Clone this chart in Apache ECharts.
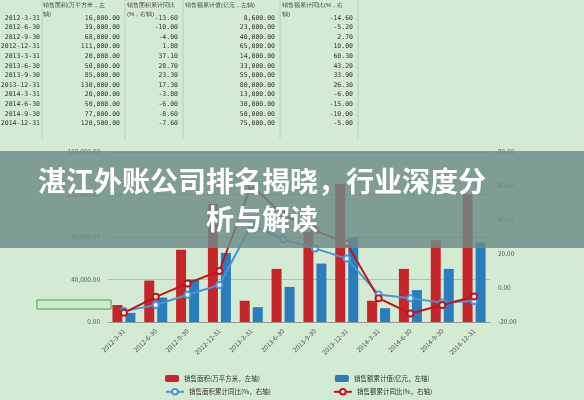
<!DOCTYPE html>
<html>
<head>
<meta charset="utf-8">
<script src="https://cdn.jsdelivr.net/npm/echarts@6/dist/echarts.min.js"></script>
<style>
  * { margin: 0; padding: 0; }
  body { background: #d3ead3; }
  #main { width: 584px; height: 400px; }
</style>
</head>
<body>
<div id="main"></div>
<script>
var dates = ['2012-3-31', '2012-6-30', '2012-9-30', '2012-12-31', '2013-3-31', '2013-6-30',
  '2013-9-30', '2013-12-31', '2014-3-31', '2014-6-30', '2014-9-30', '2014-12-31'];
var area = [16000, 39000, 68000, 111000, 20000, 50000, 85000, 130000, 20000, 50000, 77000, 120500];
var areaYoy = [-13.6, -10, -4, 1.8, 37.1, 28.7, 23.3, 17.3, -3.8, -6, -8.6, -7.6];
var amount = [8600, 23000, 40000, 65000, 14000, 33000, 55000, 80000, 13000, 30000, 50000, 75000];
var amountYoy = [-14.6, -5.2, 2.7, 10, 60.3, 43.2, 33.9, 26.3, -6, -15, -10, -5];
var names = ['销售面积(万平方米，左轴)', '销售额累计值(亿元，左轴)', '销售面积累计同比(%，右轴)', '销售额累计同比(%，右轴)'];
var headers = [['销售面积(万平方米，左', '轴)'], ['销售面积累计同比', '(%，右轴)'], ['销售额累计值(亿元，左轴)', ''], ['销售额累计同比(%，右', '轴)']];

function fmt(v, d) {
  return v.toLocaleString('en-US', { minimumFractionDigits: d, maximumFractionDigits: d });
}

var chart = echarts.init(document.getElementById('main'));
var mono = 'DejaVu Sans Mono';
var graphic = [];
// spreadsheet cell lines
[42, 125, 183, 280, 358].forEach(function (x) {
  graphic.push({ type: 'line', shape: { x1: x, y1: 0, x2: x, y2: 140 }, style: { stroke: '#b8d4b8', lineWidth: 1 }, silent: true });
});
var colsRight = [120, 178, 275, 353];
var colsLeft = [43, 127, 185, 282];
headers.forEach(function (h, i) {
  graphic.push({ type: 'text', left: colsLeft[i], top: 1, style: { text: h[0] + '\n' + h[1], fontSize: 6, lineHeight: 9, fill: '#444' } });
});
dates.forEach(function (d, i) {
  var y = 18 + i * 9.6;
  var cells = [fmt(area[i], 2), fmt(areaYoy[i], 2), fmt(amount[i], 2), fmt(amountYoy[i], 2)];
  graphic.push({ type: 'text', x: 40, y: y, style: { text: d, fontSize: 6.5, fontFamily: mono, fill: '#333', align: 'right', verticalAlign: 'middle' } });
  cells.forEach(function (c, j) {
    graphic.push({ type: 'text', x: colsRight[j], y: y, style: { text: c, fontSize: 6.5, fontFamily: mono, fill: '#333', align: 'right', verticalAlign: 'middle' } });
  });
});
// selected cell
graphic.push({ type: 'rect', shape: { x: 37, y: 300, width: 74, height: 9 }, style: { fill: 'none', stroke: '#3aa53a', lineWidth: 1 } });
// title overlay
graphic.push({ type: 'rect', z: 100, shape: { x: 0, y: 151, width: 584, height: 97 }, style: { fill: 'rgba(110,140,135,0.82)' } });
graphic.push({ type: 'text', z: 101, x: 262, y: 200, style: {
  text: '湛江外账公司排名揭晓，行业深度分\n析与解读', fontSize: 28, fontWeight: 'bold', lineHeight: 38,
  fontFamily: 'Noto Sans CJK SC', fill: '#fff', align: 'center', verticalAlign: 'middle'
} });

chart.setOption({
  backgroundColor: '#d3ead3',
  animation: false,
  textStyle: { fontFamily: 'Noto Sans CJK SC' },
  graphic: graphic,
  grid: { left: 108, right: 94, top: 152, bottom: 78 },
  legend: [
    { data: [names[0], names[1]], left: 160, top: 370, itemGap: 75, itemWidth: 14, itemHeight: 7, textStyle: { fontSize: 6.5, color: '#333' } },
    { data: [names[2], names[3]], left: 160, top: 383, itemGap: 62, itemWidth: 18, itemHeight: 7, textStyle: { fontSize: 6.5, color: '#333' } }
  ],
  xAxis: {
    type: 'category', data: dates,
    axisLine: { lineStyle: { color: '#999' } }, axisTick: { show: false },
    axisLabel: { rotate: 45, fontSize: 6.5, color: '#555', interval: 0 }
  },
  yAxis: [
    { type: 'value', min: 0, max: 160000, interval: 40000,
      axisLabel: { fontSize: 6.5, color: '#555', formatter: function (v) { return fmt(v, 2); } },
      splitLine: { lineStyle: { color: '#aac4aa' } } },
    { type: 'value', min: -20, max: 80, interval: 20,
      axisLabel: { fontSize: 6.5, color: '#555', formatter: function (v) { return v.toFixed(2); } },
      splitLine: { show: false } }
  ],
  series: [
    { name: names[0], type: 'bar', data: area, barWidth: 10, barGap: '30%', itemStyle: { color: '#c4262b' } },
    { name: names[1], type: 'bar', data: amount, barWidth: 10, itemStyle: { color: '#2a7cbc' } },
    { name: names[2], type: 'line', yAxisIndex: 1, data: areaYoy, symbol: 'circle', symbolSize: 6,
      lineStyle: { color: '#4a94d6', width: 2 }, itemStyle: { color: '#fff', borderColor: '#4a94d6', borderWidth: 2 } },
    { name: names[3], type: 'line', yAxisIndex: 1, data: amountYoy, symbol: 'circle', symbolSize: 6,
      lineStyle: { color: '#c0141c', width: 2 }, itemStyle: { color: '#fff', borderColor: '#c0141c', borderWidth: 2 } }
  ]
});
</script>
</body>
</html>
